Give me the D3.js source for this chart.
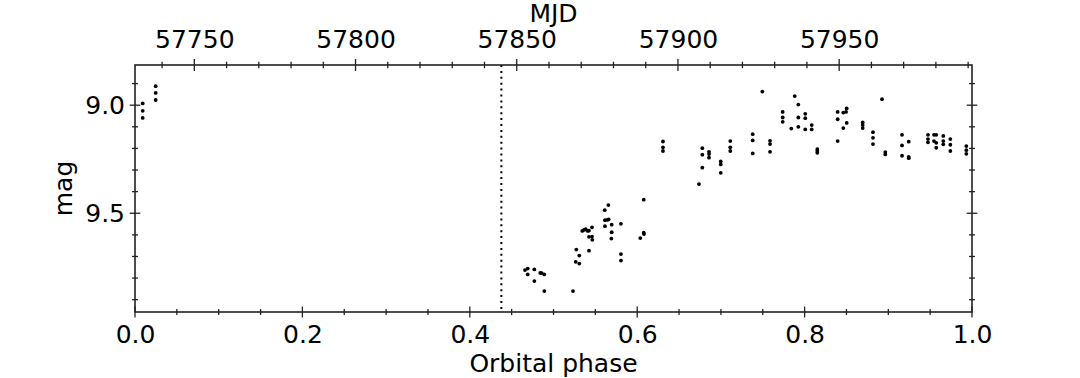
<!DOCTYPE html>
<html>
<head>
<meta charset="utf-8">
<script src="https://cdn.jsdelivr.net/npm/d3@7"></script>
<style>
  body { margin: 0; background: #fff; }
  svg text { font-family: "DejaVu Sans", sans-serif; fill: #000; }
</style>
</head>
<body>
<div id="chart"></div>
<script>
// orbital phase of each observation
var phase = [
  0.0092, 0.0092, 0.0092, 0.0247, 0.0247, 0.0247,
  0.4659, 0.4692, 0.4692, 0.4771, 0.4771, 0.4842, 0.4859, 0.4890, 0.4890,
  0.5233, 0.5272, 0.5308, 0.5265, 0.5308, 0.5344, 0.5364, 0.5385, 0.5409,
  0.5424, 0.5460, 0.5424, 0.5460, 0.5464, 0.5424,
  0.5612, 0.5655, 0.5615, 0.5643, 0.5659, 0.5695, 0.5615, 0.5695, 0.5691,
  0.5806, 0.5806, 0.5806, 0.6078, 0.6078, 0.6081, 0.6037,
  0.6308, 0.6308, 0.6308, 0.6738, 0.6778, 0.6778, 0.6778,
  0.6858, 0.6858, 0.6858, 0.6998, 0.6998, 0.6998, 0.7112, 0.7112, 0.7112,
  0.7380, 0.7380, 0.7380, 0.7587, 0.7587, 0.7587, 0.7495,
  0.7738, 0.7738, 0.7738, 0.7841, 0.7882, 0.7925, 0.7925, 0.7925,
  0.8008, 0.8008, 0.8008, 0.8085, 0.8085, 0.8152, 0.8152, 0.8152,
  0.8395, 0.8395, 0.8395, 0.8462, 0.8495, 0.8503, 0.8462, 0.8503,
  0.8694, 0.8694, 0.8694, 0.8817, 0.8817, 0.8817, 0.8925, 0.8964, 0.8964,
  0.9164, 0.9164, 0.9164, 0.9244, 0.9244, 0.9244,
  0.9474, 0.9474, 0.9474, 0.9546, 0.9573, 0.9546, 0.9573, 0.9573,
  0.9657, 0.9657, 0.9657, 0.9741, 0.9741, 0.9741, 0.9932, 0.9932, 0.9932
];
// magnitude of each observation
var mag = [
  8.992, 9.026, 9.059, 8.912, 8.943, 8.976,
  9.763, 9.756, 9.783, 9.760, 9.814, 9.776, 9.777, 9.783, 9.860,
  9.860, 9.668, 9.696, 9.725, 9.733, 9.582, 9.577, 9.574, 9.582,
  9.580, 9.565, 9.609, 9.608, 9.623, 9.673,
  9.486, 9.462, 9.532, 9.531, 9.528, 9.553, 9.560, 9.588, 9.617,
  9.549, 9.689, 9.719, 9.437, 9.590, 9.596, 9.615,
  9.168, 9.195, 9.212, 9.365, 9.199, 9.229, 9.289,
  9.216, 9.226, 9.243, 9.260, 9.274, 9.313, 9.166, 9.195, 9.212,
  9.134, 9.163, 9.223, 9.165, 9.180, 9.216, 8.937,
  9.031, 9.057, 9.077, 9.108, 8.958, 8.997, 9.057, 9.100,
  9.040, 9.060, 9.112, 9.092, 9.112, 9.203, 9.211, 9.220,
  9.031, 9.065, 9.166, 9.034, 9.031, 9.015, 9.106, 9.082,
  9.080, 9.092, 9.106, 9.125, 9.151, 9.180, 8.972, 9.217, 9.228,
  9.137, 9.186, 9.234, 9.169, 9.239, 9.245,
  9.137, 9.157, 9.172, 9.137, 9.137, 9.166, 9.174, 9.197,
  9.142, 9.166, 9.181, 9.157, 9.183, 9.212, 9.189, 9.208, 9.225
];
var phaseTicks = [0.0, 0.2, 0.4, 0.6, 0.8, 1.0];
var mjdTicks = [57750, 57800, 57850, 57900, 57950];
var magTicks = [9.0, 9.5];
var magDomain = [8.814, 9.957];
var mjdStart = 57731.6;   // MJD at phase 0
var period = 259.6;       // days
var markPhase = 0.4377;   // dotted line

var W = 1080, H = 378;
var pL = 135, pR = 972, pT = 65, pB = 312;
var fs = 25;

var svg = d3.select("#chart").append("svg").attr("width", W).attr("height", H);

var x = d3.scaleLinear().domain([0, 1]).range([pL, pR]);
var xm = d3.scaleLinear().domain([mjdStart, mjdStart + period]).range([pL, pR]);
var y = d3.scaleLinear().domain(magDomain).range([pT, pB]);

var phaseMinor = d3.range(0, 1.0001, 0.05).filter(function(v){ return Math.abs(v*5 - Math.round(v*5)) > 1e-6; });
var mjdMinor = d3.range(57740, 57991, 10).filter(function(v){ return v % 50 != 0; });
var magMinor = d3.range(8.9, 9.95, 0.1).filter(function(v){ return Math.abs(v*2 - Math.round(v*2)) > 1e-6; });

// points
svg.append("g").selectAll("circle").data(phase).enter().append("circle")
  .attr("cx", function(d){ return x(d); })
  .attr("cy", function(d, i){ return y(mag[i]); })
  .attr("r", 1.9)
  .style("fill", "#000");

// dotted marker
svg.append("line")
  .attr("x1", x(markPhase)).attr("x2", x(markPhase))
  .attr("y1", pT).attr("y2", pB)
  .style("stroke", "#000").style("stroke-width", 2)
  .style("stroke-dasharray", "2,3.9");

// frame
svg.append("rect")
  .attr("x", pL).attr("y", pT).attr("width", pR - pL).attr("height", pB - pT)
  .style("fill", "none").style("stroke", "#222").style("stroke-width", 1.6);

// tick marks crossing the spines
function hTicks(scale, vals, yy, len) {
  svg.append("g").selectAll("line").data(vals).enter().append("line")
    .attr("x1", function(d){ return scale(d); }).attr("x2", function(d){ return scale(d); })
    .attr("y1", yy - len).attr("y2", yy + len)
    .style("stroke", "#222").style("stroke-width", 1.3);
}
function vTicks(scale, vals, xx, len) {
  svg.append("g").selectAll("line").data(vals).enter().append("line")
    .attr("y1", function(d){ return scale(d); }).attr("y2", function(d){ return scale(d); })
    .attr("x1", xx - len).attr("x2", xx + len)
    .style("stroke", "#222").style("stroke-width", 1.3);
}
hTicks(x, phaseTicks, pB, 5.5);
hTicks(x, phaseMinor, pB, 3);
hTicks(xm, mjdTicks, pT, 6);
hTicks(xm, mjdMinor, pT, 3.3);
vTicks(y, magTicks, pL, 5.3);
vTicks(y, magMinor, pL, 3);
vTicks(y, magTicks, pR, 5.3);
vTicks(y, magMinor, pR, 3);

// tick labels through d3 axes
function labels(g) {
  g.select(".domain").remove();
  g.selectAll(".tick line").remove();
  g.selectAll("text").style("font-size", fs + "px").style("font-family", "DejaVu Sans");
}
svg.append("g").attr("transform", "translate(0," + pB + ")")
  .call(d3.axisBottom(x).tickValues(phaseTicks).tickFormat(d3.format(".1f")).tickSize(0).tickPadding(13))
  .call(labels);
svg.append("g").attr("transform", "translate(0," + pT + ")")
  .call(d3.axisTop(xm).tickValues(mjdTicks).tickFormat(d3.format("d")).tickSize(0).tickPadding(17))
  .call(labels);
svg.append("g").attr("transform", "translate(" + pL + ",0)")
  .call(d3.axisLeft(y).tickValues(magTicks).tickFormat(d3.format(".1f")).tickSize(0).tickPadding(10))
  .call(labels);

// axis titles
svg.append("text").attr("x", (pL + pR) / 2).attr("y", 372)
  .attr("text-anchor", "middle").style("font-size", fs + "px").text("Orbital phase");
svg.append("text").attr("x", (pL + pR) / 2).attr("y", 22)
  .attr("text-anchor", "middle").style("font-size", fs + "px").text("MJD");
svg.append("text").attr("transform", "translate(72," + (pT + pB) / 2 + ") rotate(-90)")
  .attr("text-anchor", "middle").style("font-size", fs + "px").text("mag");
</script>
</body>
</html>
